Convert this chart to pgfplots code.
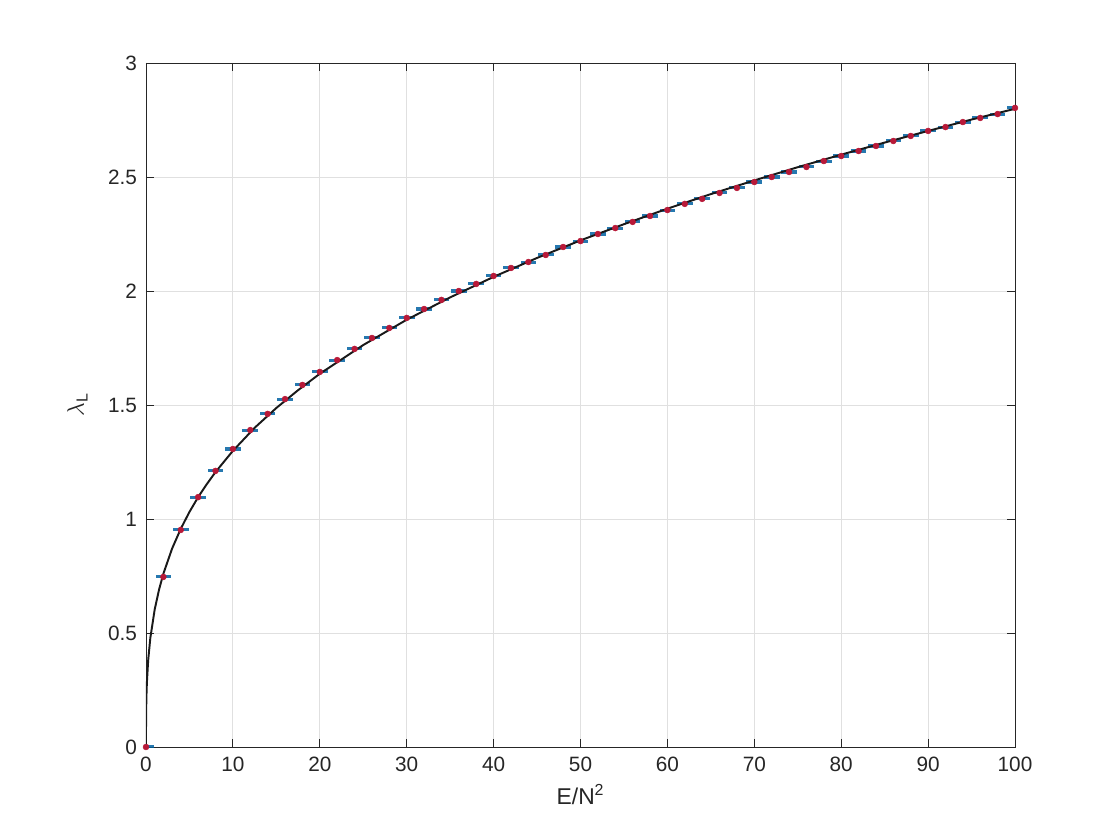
\documentclass[border=0pt]{standalone}
\usepackage{fontspec}
\setmainfont{Liberation Sans}
\usepackage{pgfplots}
\pgfplotsset{compat=1.18}
\usepackage{pgfplotstable}
\definecolor{mblue}{rgb}{0,0.447,0.741}
\definecolor{mred}{rgb}{0.72,0.10,0.22}
\definecolor{axgray}{rgb}{0.15,0.15,0.15}
\pgfplotstableread{
x y
0 0
2 0.746
4 0.952
6 1.096
8 1.211
10 1.307
12 1.390
14 1.461
16 1.526
18 1.588
20 1.645
22 1.697
24 1.746
26 1.794
28 1.838
30 1.882
32 1.921
34 1.961
36 2.000
38 2.031
40 2.066
42 2.101
44 2.127
46 2.158
48 2.193
50 2.219
52 2.250
54 2.276
56 2.303
58 2.329
60 2.355
62 2.382
64 2.404
66 2.430
68 2.452
70 2.478
72 2.500
74 2.522
76 2.544
78 2.570
80 2.592
82 2.614
84 2.636
86 2.658
88 2.680
90 2.702
92 2.719
94 2.741
96 2.759
98 2.776
100 2.803
}\simdata
\begin{document}
\begin{tikzpicture}
\useasboundingbox[fill=white] (-1.46in,-0.93in) rectangle (9.74in,7.47in);
\begin{axis}[
  at={(0,0)}, anchor=south west,
  scale only axis,
  width=8.69in, height=6.84in,
  xmin=0, xmax=100, ymin=0, ymax=3,
  xtick={0,10,...,100},
  ytick={0,0.5,1,1.5,2,2.5,3},
  xmajorgrids, ymajorgrids,
  grid style={black!12, line width=0.6pt},
  axis line style={axgray, line width=0.7pt},
  major tick style={axgray, line width=0.7pt},
  major tick length=0.08in,
  tick align=inside,
  /pgf/number format/assume math mode=true,
  ticklabel style={font=\fontsize{15}{18}\selectfont, text=axgray},
  xticklabel style={yshift=-4pt},
  yticklabel style={xshift=-3pt},
  xlabel={E/N\textsuperscript{2}},
  ylabel={$\lambda_{\mathrm{L}}$},
  label style={font=\fontsize{16.5}{20}\selectfont, text=axgray},
  xlabel style={yshift=-2pt},
  ylabel style={yshift=8pt},
]
% red points
\addplot[only marks, mark=*, mark size=2.1pt,
  mark options={fill=mred, draw=mred}] table {\simdata};
% horizontal error bars on top
\addplot[draw=none, mark=none,
  error bars/.cd, x dir=both, x fixed=0.9,
  error bar style={mblue!85!black, line width=2.2pt, opacity=0.85},
  error mark=none,
] table {\simdata};
% fitted curve
\addplot[black!90, line width=1.4pt] coordinates {
(0,0) (0.001,0.060) (0.005,0.103) (0.01,0.130) (0.02,0.164) (0.05,0.222)
(0.1,0.280) (0.25,0.380) (0.5,0.479) (1,0.603) (1.5,0.690) (2,0.760)
(3,0.870) (4,0.957) (5,1.031) (6,1.096) (7,1.153) (8,1.206) (10,1.299)
(12.5,1.400) (15,1.487) (17.5,1.565) (20,1.637) (25,1.763) (30,1.874)
(35,1.972) (40,2.062) (45,2.145) (50,2.222) (55,2.293) (60,2.361)
(65,2.425) (70,2.485) (75,2.543) (80,2.598) (85,2.651) (90,2.702)
(95,2.752) (100,2.799)
};
\end{axis}
\end{tikzpicture}
\end{document}
